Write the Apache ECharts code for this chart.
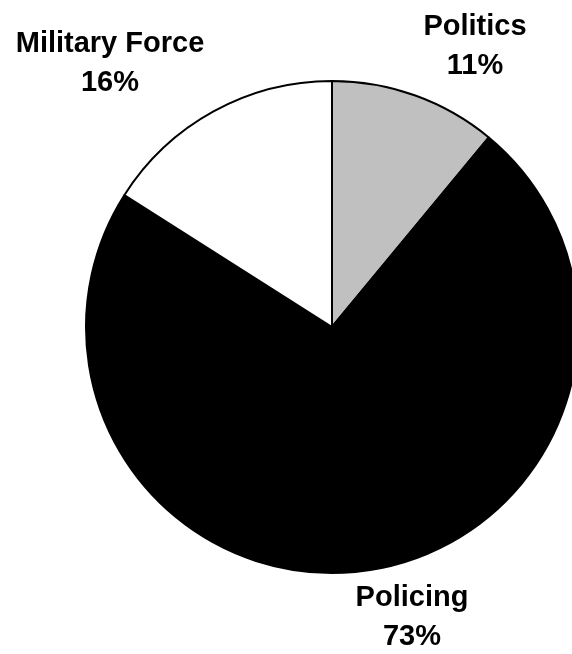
<!DOCTYPE html>
<html>
<head>
<meta charset="utf-8">
<script src="https://cdn.jsdelivr.net/npm/echarts@6/dist/echarts.min.js"></script>
<style>html,body{margin:0;padding:0;background:#fff;}#c{width:572px;height:654px;}</style>
</head>
<body>
<div id="c"></div>
<script>
const categories = ['Politics', 'Policing', 'Military Force'];
const values = [11, 73, 16];
const colors = ['#C0C0C0', '#000000', '#FFFFFF'];
const labelPos = [[475, 46], [412, 617], [110, 63]];

const chart = echarts.init(document.getElementById('c'));
chart.setOption({
  animation: false,
  series: [{
    type: 'pie',
    center: [332, 327],
    radius: 246,
    startAngle: 90,
    clockwise: true,
    data: categories.map((c, i) => ({name: c, value: values[i], itemStyle: {color: colors[i]}})),
    itemStyle: {borderColor: '#000', borderWidth: 2},
    label: {
      show: true,
      position: 'outside',
      formatter: p => p.name + '\n' + p.value + '%',
      fontFamily: 'Liberation Sans, Arial, sans-serif',
      fontWeight: 'bold',
      fontSize: 29,
      lineHeight: 39,
      color: '#000',
      align: 'center',
      overflow: 'none',
      width: 300
    },
    labelLine: {show: false},
    labelLayout: p => ({x: labelPos[p.dataIndex][0], y: labelPos[p.dataIndex][1], align: 'center', verticalAlign: 'middle', hideOverlap: false}),
    emphasis: {disabled: true}
  }]
});
</script>
</body>
</html>
